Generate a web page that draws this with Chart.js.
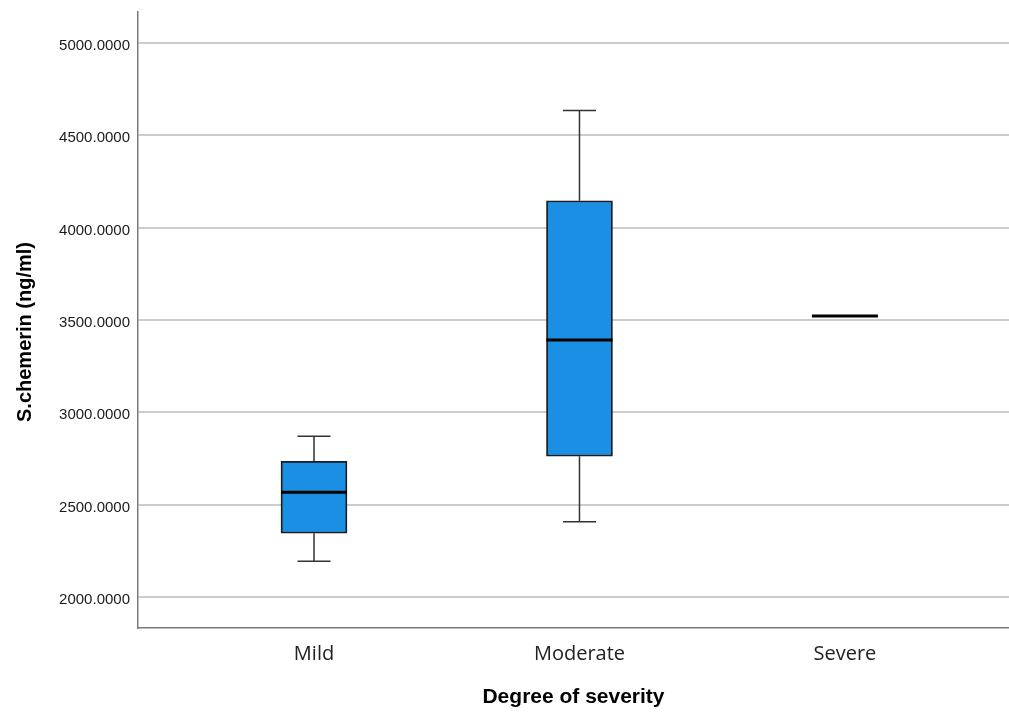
<!DOCTYPE html>
<html>
<head>
<meta charset="utf-8">
<script src="https://cdn.jsdelivr.net/npm/chart.js@4.4.1/dist/chart.umd.min.js"></script>
<style>
html,body{margin:0;padding:0;background:#fff;}
#wrap{width:1009px;height:714px;position:relative;}
</style>
</head>
<body>
<div id="wrap"><canvas id="c" width="1009" height="714"></canvas></div>
<script>
const categories = ['Mild', 'Moderate', 'Severe'];
const positions = [1, 2, 3];
const whiskerMin = [2193, 2408, 3522];
const q1 = [2345, 2762, 3522];
const median = [2567, 3392, 3522];
const q3 = [2735, 4146, 3522];
const whiskerMax = [2870, 4635, 3522];
const yTicks = [2000, 2500, 3000, 3500, 4000, 4500, 5000];
const yTitle = 'S.chemerin (ng/ml)';
const xTitle = 'Degree of severity';

const boxPlugin = {
  id: 'boxWhiskers',
  beforeDatasetsDraw(chart) {
    const ctx = chart.ctx, xs = chart.scales.x, ys = chart.scales.y;
    const meta = chart.getDatasetMeta(0);
    ctx.save();
    ctx.strokeStyle = '#333333';
    ctx.lineWidth = 1.5;
    positions.forEach((p, i) => {
      const x = xs.getPixelForValue(p);
      const w = meta.data[i].width;
      const cap = w / 4;
      ctx.beginPath();
      if (whiskerMax[i] > q3[i]) {
        ctx.moveTo(x, ys.getPixelForValue(q3[i]));
        ctx.lineTo(x, ys.getPixelForValue(whiskerMax[i]));
        ctx.moveTo(x - cap, ys.getPixelForValue(whiskerMax[i]));
        ctx.lineTo(x + cap, ys.getPixelForValue(whiskerMax[i]));
      }
      if (whiskerMin[i] < q1[i]) {
        ctx.moveTo(x, ys.getPixelForValue(q1[i]));
        ctx.lineTo(x, ys.getPixelForValue(whiskerMin[i]));
        ctx.moveTo(x - cap, ys.getPixelForValue(whiskerMin[i]));
        ctx.lineTo(x + cap, ys.getPixelForValue(whiskerMin[i]));
      }
      ctx.stroke();
    });
    ctx.restore();
  },
  afterDatasetsDraw(chart) {
    const ctx = chart.ctx, xs = chart.scales.x, ys = chart.scales.y;
    const meta = chart.getDatasetMeta(0);
    ctx.save();
    ctx.strokeStyle = '#000000';
    ctx.lineWidth = 3;
    positions.forEach((p, i) => {
      const x = xs.getPixelForValue(p);
      const w = meta.data[i].width;
      const y = ys.getPixelForValue(median[i]);
      ctx.beginPath();
      ctx.moveTo(x - w / 2, y);
      ctx.lineTo(x + w / 2, y);
      ctx.stroke();
    });
    ctx.restore();
  },
  afterDraw(chart) {
    const ctx = chart.ctx;
    ctx.save();
    ctx.translate(25, 332);
    ctx.rotate(-Math.PI / 2);
    ctx.font = 'bold 20px "Liberation Sans", Arial, sans-serif';
    ctx.fillStyle = '#000000';
    ctx.textAlign = 'center';
    ctx.textBaseline = 'middle';
    ctx.fillText(yTitle, 0, 0);
    ctx.restore();
  }
};

new Chart(document.getElementById('c'), {
  type: 'bar',
  data: {
    datasets: [{
      data: positions.map((p, i) => ({ x: p, y: [q1[i], q3[i]] })),
      backgroundColor: '#1a8fe3',
      borderColor: '#1c1c1c',
      borderWidth: 1.8,
      borderSkipped: false,
      barThickness: 66
    }]
  },
  plugins: [boxPlugin],
  options: {
    responsive: false,
    animation: false,
    layout: { padding: { top: 12, left: 0, right: 0, bottom: 0 } },
    plugins: { legend: { display: false }, tooltip: { enabled: false } },
    scales: {
      x: {
        type: 'linear',
        offset: false,
        min: 0.337,
        max: 3.618,
        afterBuildTicks(scale) { scale.ticks = positions.map(v => ({ value: v })); },
        afterFit(scale) { scale.height = 86; scale.paddingLeft = 0; scale.paddingRight = 0; },
        grid: { display: false, drawTicks: false },
        border: { display: true, color: '#7a7a7a', width: 1.5 },
        ticks: {
          padding: 14,
          autoSkip: false,
          maxRotation: 0,
          color: '#222222',
          font: { family: '"Open Sans", sans-serif', size: 20 },
          callback: (v) => { const i = positions.indexOf(v); return i >= 0 ? categories[i] : ''; }
        },
        title: {
          display: true,
          text: xTitle,
          color: '#000000',
          font: { family: '"Liberation Sans", Arial, sans-serif', size: 21, weight: 'bold' },
          padding: { top: 0, bottom: 4 }
        }
      },
      y: {
        min: 1832,
        max: 5168,
        afterBuildTicks(scale) { scale.ticks = yTicks.map(v => ({ value: v })); },
        afterFit(scale) { scale.width = 138; scale.paddingTop = 0; scale.paddingBottom = 0; },
        grid: { color: '#cccccc', lineWidth: 2, drawTicks: false },
        border: { display: true, color: '#7a7a7a', width: 1.5 },
        ticks: {
          padding: 8,
          labelOffset: 3,
          color: '#1a1a1a',
          font: { family: '"Liberation Sans", Arial, sans-serif', size: 15 },
          callback: (v) => Number(v).toFixed(4)
        }
      }
    }
  }
});
</script>
</body>
</html>
